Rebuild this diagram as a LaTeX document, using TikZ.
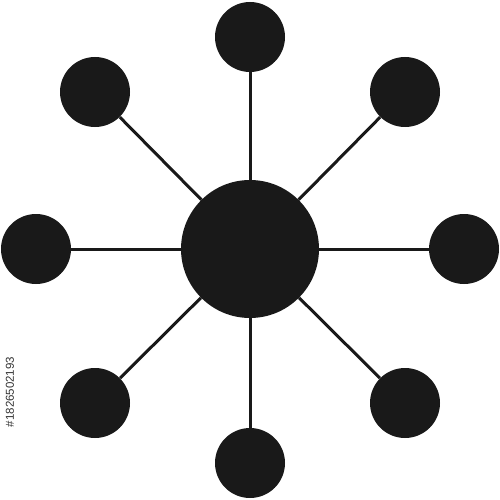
\documentclass[tikz,border=0pt]{standalone}
\usepackage{fontspec}
\setmainfont{Liberation Sans}
\begin{document}
\begin{tikzpicture}[x=1pt,y=-1pt,
  hub/.style={circle,fill=black!90,inner sep=0pt,minimum size=138pt},
  leaf/.style={circle,fill=black!90,inner sep=0pt,minimum size=70pt},
  spoke/.style={draw=black!90,line width=3pt}]
\useasboundingbox (0,0) rectangle (500,500);
\node[hub] (c) at (250,249) {};
\node[leaf] (n) at (250,37) {};
\node[leaf] (s) at (250,463) {};
\node[leaf] (w) at (36,249) {};
\node[leaf] (e) at (464,249) {};
\node[leaf] (nw) at (95,92) {};
\node[leaf] (ne) at (405,92) {};
\node[leaf] (sw) at (95,403) {};
\node[leaf] (se) at (405,403) {};
\foreach \t in {n,s,w,e,nw,ne,sw,se} \draw[spoke] (c) -- (\t);
\node[rotate=90,text=black!80,font=\fontsize{11.5}{12}\selectfont,inner sep=0pt] (wm) at (10,392) {\#1826502193};
\end{tikzpicture}
\end{document}
